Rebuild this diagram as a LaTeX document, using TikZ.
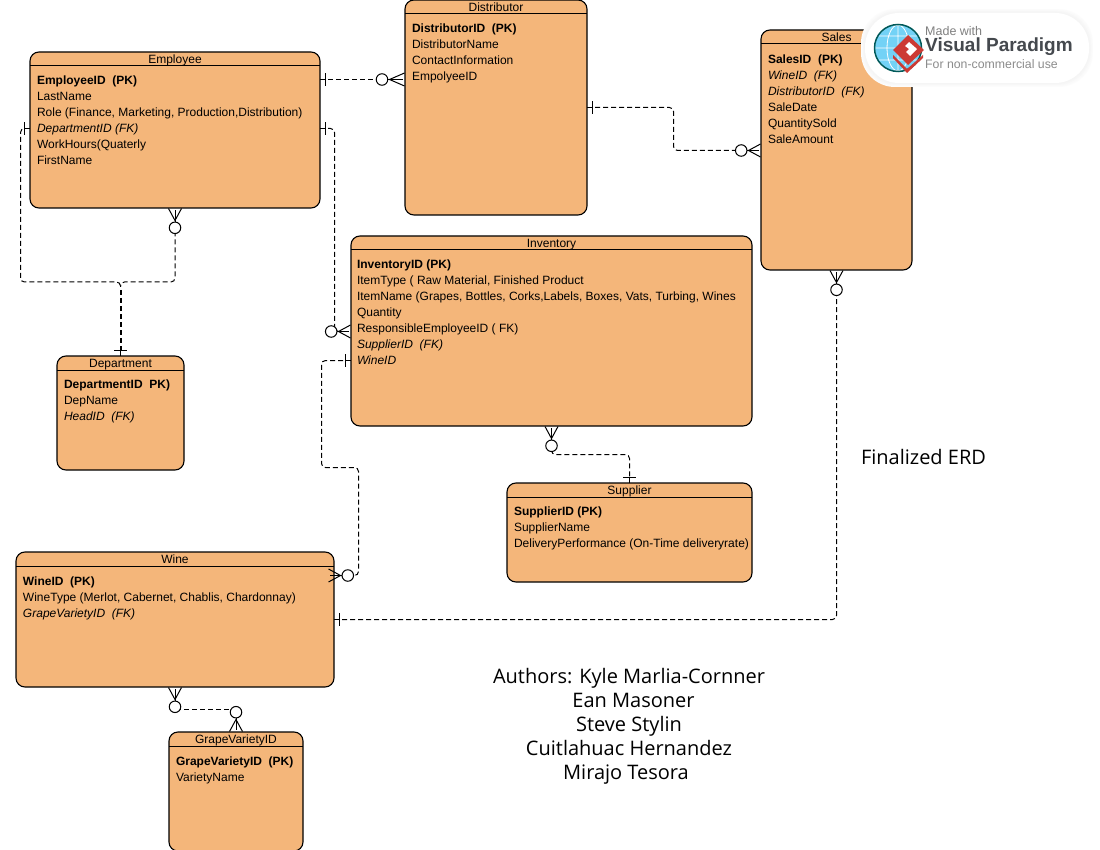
\documentclass[tikz,border=0pt]{standalone}
\usepackage{fontspec}
\setmainfont{Liberation Sans}
\newfontfamily\notefont{Open Sans}
\usetikzlibrary{positioning,arrows.meta}
\definecolor{tableFill}{HTML}{F4B67A}
\definecolor{badgeGray}{HTML}{45494E}
\definecolor{badgeRed}{HTML}{CC3A34}
\tikzset{
  table/.style={draw=black, fill=tableFill, line width=1.1pt, rounded corners=9pt,
                anchor=north west, outer sep=0pt, inner sep=0pt},
  tablehead/.style={minimum height=14pt, inner sep=0pt, outer sep=0pt, text height=9pt, text depth=0pt,
                    font=\fontsize{12}{14}\selectfont},
  fields/.style={anchor=north west, inner sep=0pt, outer sep=0pt, align=left,
                 font=\fontsize{12}{16}\selectfont},
  note/.style={align=center, inner sep=0pt, font=\notefont\fontsize{20}{24}\selectfont},
  rel/.style={line width=1pt, dash pattern=on 5pt off 3pt, dash phase=5pt, rounded corners=4pt},
  one/.tip={Square[length=1.3pt,width=13pt,line width=0pt,sep=0pt] Square[length=5pt,width=1pt,line width=0pt]},
  many/.tip={Circle[open,fill=white,length=12.5pt,width=12.5pt,line width=1pt,sep=0pt]
             Square[length=12pt,width=1pt,line width=0pt,sep=-12pt]
             Straight Barb[reversed,length=12pt,width=13pt,line width=1pt]},
  manylong/.tip={Circle[open,fill=white,length=12.5pt,width=12.5pt,line width=1pt,sep=0pt]
             Square[length=15pt,width=1pt,line width=0pt,sep=-15pt]
             Straight Barb[reversed,length=15pt,width=13pt,line width=1pt]},
}
\newcommand{\tablebox}[7]{%
  \node[table, minimum width=#3pt, minimum height=#4pt] (#1) at (#2) {};
  \node[tablehead, below=0pt of #1.north] (#1head) {#5};
  \draw[line width=1pt] (#1head.south -| #1.west) -- (#1head.south -| #1.east);
  \node[fields] (#1fields) at ([xshift=7pt,yshift=-#6pt]#1.north west) {#7};
}
\newcommand{\pk}[1]{\textbf{#1}}
\newcommand{\fk}[1]{\textit{#1}}

\begin{document}
\begin{tikzpicture}[x=1pt,y=-1pt]
  \useasboundingbox (0,0) rectangle (1100,850);

  % tables
  \tablebox{employee}{30,52}{290}{156}{Employee}{24}{\pk{EmployeeID\ \ (PK)}\\LastName\\Role (Finance, Marketing, Production,Distribution)\\\fk{DepartmentID (FK)}\\WorkHours(Quaterly\\FirstName}
  \tablebox{distributor}{405,0}{182}{215}{Distributor}{24}{\pk{DistributorID\ \ (PK)}\\DistributorName\\ContactInformation\\EmpolyeeID}
  \tablebox{sales}{761,30}{151}{240}{Sales}{25}{\pk{SalesID\ \ (PK)}\\\fk{WineID\ \ (FK)}\\\fk{DistributorID\ \ (FK)}\\SaleDate\\QuantitySold\\SaleAmount}
  \tablebox{inventory}{351,236}{401}{190}{Inventory}{24}{\hspace{-1pt}\pk{InventoryID (PK)}\\\hspace{-1pt}ItemType ( Raw Material, Finished Product\\\hspace{-1pt}ItemName (Grapes, Bottles, Corks,Labels, Boxes, Vats, Turbing, Wines\\\hspace{-1pt}Quantity\\\hspace{-1pt}ResponsibleEmployeeID ( FK)\\\hspace{-1pt}\fk{SupplierID\ \ (FK)}\\\hspace{-1pt}\fk{WineID}}
  \tablebox{department}{57,356}{127}{114}{Department}{24}{\pk{DepartmentID\ \ PK)}\\DepName\\\fk{HeadID\ \ (FK)}}
  \tablebox{supplier}{507,483}{245}{99}{Supplier}{23.5}{\pk{SupplierID (PK)}\\SupplierName\\DeliveryPerformance (On-Time deliveryrate)}
  \tablebox{wine}{16,552}{318}{135}{Wine}{25}{\pk{WineID\ \ (PK)}\\WineType (Merlot, Cabernet, Chablis, Chardonnay)\\\fk{GrapeVarietyID\ \ (FK)}}
  \tablebox{grape}{169,732}{134}{119}{GrapeVarietyID}{25}{\pk{GrapeVarietyID\ \ (PK)}\\VarietyName}

  % relations
  \coordinate (deptjoin) at (120.5,287);
  \draw[rel, one-manylong] ([yshift=-27.5pt]employee.north east) -- ([yshift=-79.5pt]distributor.north west);
  \draw[rel, one-many] ([yshift=-107.5pt]distributor.north east) -| (673.5,150.5) -- ([yshift=-120.5pt]sales.north west);
  \draw[rel, one-] ([yshift=-76.5pt]employee.north west) -| (20.5,282) -| (deptjoin);
  \draw[rel, many-] (employee.south) -- (175,282) -| (deptjoin);
  \draw[rel, line width=2pt, -one] (deptjoin) -- (department.north);
  \draw[rel, one-many] ([yshift=-76.5pt]employee.north east) -| (334.5,331.5) -- ([yshift=-95.5pt]inventory.north west);
  \draw[rel, one-many] ([yshift=-124.5pt]inventory.north west) -| (321.5,467.5) -| (358.5,575.5) -- ([xshift=-6pt,yshift=-23.5pt]wine.north east);
  \draw[rel, many-one] (inventory.south) |- (600,454.5) -| (supplier.north);
  \draw[rel, one-many] ([yshift=-67.5pt]wine.north east) -| (sales.south);
  \draw[rel, rounded corners=0pt, many-many] (wine.south) |- (200,709.5) -| (grape.north);

  % notes
  \node[note] (finalized) at (923.5,457) {Finalized ERD};
  \node[note] (authors) at (629,726) {Authors: Kyle Marlia-Cornner\\\hspace{9pt}Ean Masoner\\Steve Stylin\\Cuitlahuac Hernandez\\Mirajo Tesora\hspace*{6pt}};

  % badge
  \foreach \grow/\shade in {4/1,3/2,2/3,1/4}
    \fill[black!\shade, rounded corners=34pt] (865-\grow,13-\grow) rectangle (1089+\grow,83+\grow);
  \fill[white, rounded corners=34pt] (865,13) rectangle (1089,83);
  \fill[cyan!55!white] (898,48) circle (23pt);
  \draw[white, line width=.8pt] (875,48) -- (921,48) (898,25) -- (898,71) (898,25) arc (90:270:11pt and 23pt) (898,25) arc (90:-90:11pt and 23pt) (879,36) -- (917,36) (879,60) -- (917,60);
  \draw[teal!70!black, line width=1.5pt] (898,48) circle (23.5pt);
  \fill[badgeRed] (893,58) -- (907,73) -- (923,58) -- (923,55) -- (907,69) -- (893,55) -- cycle;
  \fill[badgeRed] (908,35) -- (924,50) -- (908,65) -- (893,50) -- cycle;
  \fill[white] (909,42) -- (917,49) -- (910,56) -- (906,52) -- (909,49) -- (905,46) -- cycle;
  \node[anchor=west, inner sep=0pt, text=black!50, font=\fontsize{12.5}{14}\selectfont] (badgetop) at (925,31) {Made with};
  \node[anchor=west, inner sep=0pt, text=badgeGray, font=\fontsize{19}{22}\selectfont\bfseries] (badgename) at (925,47) {Visual Paradigm};
  \node[anchor=west, inner sep=0pt, text=black!45, font=\fontsize{12.3}{14}\selectfont] (badgeuse) at (925,64) {For non-commercial use};
\end{tikzpicture}
\end{document}
